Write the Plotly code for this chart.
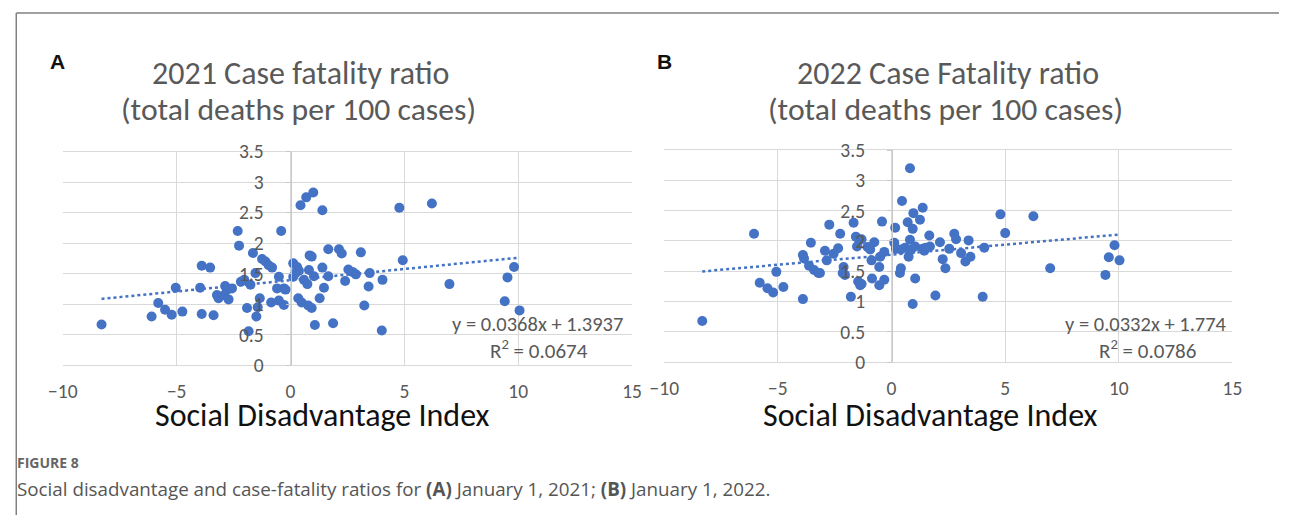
import plotly.graph_objects as go

W, H = 1289, 527

# ---------------- data ----------------
sdi_2021 = [-8.3, -6.1, -5.81, -5.51, -5.22, -5.04, -4.75, -3.97, -3.9, -3.53,
            -3.9, -3.38, -3.23, -3.16, -2.87, -2.79, -2.57, -2.91, -2.72, -2.32,
            -2.26, -2.18, -2.03, -1.91, -1.76, -1.65, -1.54, -1.84, -1.5, -1.44,
            -1.35, -1.25, -1.10, -0.96, -0.81, -0.51, -0.41, -0.59, -0.29, -0.22,
            -0.85, -0.51, -0.29, 0.12, 0.12, 0.44, 0.69, 1.0, 1.40, 0.29,
            0.37, 0.22, 0.59, 0.74, 0.84, 0.93, 0.81, 1.03, 1.40, 1.66,
            1.47, 1.28, 0.34, 0.49, 0.78, 0.93, 1.07, 1.87, 1.66, 2.13,
            2.25, 3.09, 2.40, 2.54, 2.72, 2.87, 3.48, 3.43, 4.04, 3.24,
            4.01, 4.78, 4.93, 6.21, 6.98, 9.41, 9.53, 9.82, 10.06]
cfr_2021 = [0.67, 0.80, 1.02, 0.91, 0.83, 1.27, 0.88, 1.27, 1.63, 1.60,
            0.84, 0.82, 1.15, 1.10, 1.30, 1.24, 1.26, 1.15, 1.08, 2.20,
            1.96, 1.37, 1.40, 0.94, 1.32, 1.84, 1.51, 0.56, 0.80, 0.95,
            1.10, 1.74, 1.70, 1.64, 1.60, 1.45, 2.20, 1.26, 1.26, 1.24,
            1.03, 1.06, 0.99, 1.67, 1.45, 2.62, 2.75, 2.83, 2.54, 1.61,
            1.55, 1.51, 1.40, 1.33, 1.80, 1.78, 1.56, 1.46, 1.60, 1.46,
            1.27, 1.10, 1.10, 1.03, 0.98, 0.94, 0.66, 0.69, 1.90, 1.90,
            1.83, 1.85, 1.38, 1.57, 1.53, 1.49, 1.51, 1.29, 1.40, 0.98,
            0.57, 2.58, 1.72, 2.65, 1.33, 1.05, 1.44, 1.61, 0.90]

sdi_2022 = [-8.33, -6.05, -5.80, -5.46, -5.21, -5.07, -4.76, -3.90, -3.90, -3.85,
            -3.55, -3.63, -3.41, -3.22, -3.15, -2.93, -2.85, -2.74, -2.55, -2.35,
            -2.26, -2.11, -2.15, -2.05, -1.79, -1.67, -1.57, -1.42, -1.32, -1.52,
            -1.47, -1.38, -1.32, -1.06, -0.94, -0.76, -0.88, -0.86, -0.54, -0.42,
            -0.50, -0.32, -0.54, -0.32, 0.81, 0.46, 0.16, 1.37, 0.96, 1.25,
            0.71, 0.93, 0.12, 0.19, 0.41, 0.60, 0.81, 0.85, 0.75, 1.04,
            1.37, 1.44, 1.51, 1.69, 1.66, 2.13, 2.54, 2.25, 2.37, 2.76,
            2.84, 3.06, 3.39, 3.25, 3.47, 4.08, 0.41, 0.37, 1.04, 0.93,
            1.93, 4.01, 4.79, 5.0, 6.24, 6.98, 9.41, 9.56, 9.81, 10.03]
cfr_2022 = [0.68, 2.12, 1.31, 1.22, 1.15, 1.49, 1.24, 1.04, 1.77, 1.71,
            1.97, 1.59, 1.52, 1.47, 1.47, 1.84, 1.68, 2.27, 1.79, 1.88,
            2.12, 1.57, 1.47, 1.44, 1.08, 2.30, 2.07, 2.01, 2.03, 1.91,
            1.33, 1.27, 1.29, 1.90, 1.86, 1.98, 1.68, 1.38, 1.57, 2.32,
            1.74, 1.82, 1.27, 1.36, 3.20, 2.66, 2.22, 2.55, 2.46, 2.35,
            2.31, 2.20, 1.97, 1.87, 1.86, 1.89, 2.02, 1.85, 1.74, 1.91,
            1.87, 1.84, 1.89, 1.91, 2.09, 1.98, 1.87, 1.70, 1.55, 2.12,
            2.03, 1.80, 2.01, 1.66, 1.74, 1.89, 1.55, 1.47, 1.38, 0.96,
            1.10, 1.08, 2.44, 2.13, 2.41, 1.55, 1.44, 1.73, 1.93, 1.68]

trend_slope = [0.0368, 0.0332]
trend_intercept = [1.3937, 1.774]
r_squared = ["0.0674", "0.0786"]
eq_text = ["y = 0.0368x + 1.3937", "y = 0.0332x + 1.774"]
titles_l1 = ["2021 Case fatality ratio", "2022 Case Fatality ratio"]
titles_l2 = ["(total deaths per 100 cases)", "(total deaths per 100 cases)"]
panel_labels = ["A", "B"]
x_title = "Social Disadvantage Index"
x_ticks = [-10, -5, 0, 5, 10, 15]
y_ticks = [0, 0.5, 1, 1.5, 2, 2.5, 3, 3.5]

# ---------------- layout helpers ----------------
# the page is photographed slightly shrunk and padded; map target pixel
# positions into figure pixels so that the photo lands where intended
SX, OX = 0.982, 14.1
SY, OY = 0.961, 10.2

def fx(x):
    return max(0.0, min(1.0, (x - OX) / SX / W))

def fy(y):
    return max(0.0, min(1.0, 1 - (y - OY) / SY / H))

BLUE = "#4472C4"
GRID = "#d9d9d9"
TXT = "#595959"
FONT = "Carlito, Lato, sans-serif"

fig = go.Figure()

panels = [
    dict(x=sdi_2021, y=cfr_2021, xa="x", ya="y",
         xdom=[62, 632], ydom=[366, 150.7], zero_px=290,
         t_cx=300, a_x=57, xt_cx=322, eq_r=625, r2_cx=539),
    dict(x=sdi_2022, y=cfr_2022, xa="x2", ya="y2",
         xdom=[664.3, 1233.3], ydom=[362.7, 149.3], zero_px=892.3,
         t_cx=948, a_x=665, xt_cx=931, eq_r=1230, r2_cx=1148),
]

for i, p in enumerate(panels):
    fig.add_trace(go.Scatter(x=p["x"], y=p["y"], mode="markers",
                             marker=dict(color=BLUE, size=10),
                             xaxis=p["xa"], yaxis=p["ya"], showlegend=False,
                             hoverinfo="skip"))
    x0, x1 = min(p["x"]), max(p["x"])
    fig.add_trace(go.Scatter(x=[x0, x1],
                             y=[trend_slope[i] * x0 + trend_intercept[i],
                                trend_slope[i] * x1 + trend_intercept[i]],
                             mode="lines",
                             line=dict(color=BLUE, width=2.5, dash="dot"),
                             xaxis=p["xa"], yaxis=p["ya"], showlegend=False,
                             hoverinfo="skip"))

    sfx = "" if i == 0 else "2"
    fig.update_layout(**{
        "xaxis" + sfx: dict(domain=[fx(p["xdom"][0]), fx(p["xdom"][1])],
                            range=[-10, 15], tickvals=x_ticks,
                            showgrid=True, gridcolor=GRID, gridwidth=1,
                            zeroline=False, showline=True, linecolor=GRID,
                            mirror=True, ticks="", ticklabelstandoff=8,
                            tickfont=dict(family=FONT, size=19.5, color=TXT),
                            anchor="y" + sfx, fixedrange=True),
        "yaxis" + sfx: dict(domain=[fy(p["ydom"][0]), fy(p["ydom"][1])],
                            range=[0, 3.5], tickvals=y_ticks,
                            showgrid=True, gridcolor=GRID, gridwidth=1,
                            zeroline=False, showline=True, linecolor="#c8c8c8",
                            ticks="outside", ticklen=5, tickcolor="#c8c8c8",
                            ticklabelstandoff=18,
                            anchor="free", position=fx(p["zero_px"]),
                            tickfont=dict(family=FONT, size=19.5, color=TXT),
                            fixedrange=True),
    })

    # titles
    fig.add_annotation(x=fx(p["t_cx"]), y=fy(72), xref="paper", yref="paper",
                       text=titles_l1[i], showarrow=False, xanchor="center", yanchor="middle",
                       font=dict(family=FONT, size=32, color=TXT))
    fig.add_annotation(x=fx(p["t_cx"] - 2), y=fy(108), xref="paper", yref="paper",
                       text=titles_l2[i], showarrow=False, xanchor="center", yanchor="middle",
                       font=dict(family=FONT, size=31.7, color=TXT))
    # panel letter
    fig.add_annotation(x=fx(p["a_x"]), y=fy(60), xref="paper", yref="paper",
                       text="<b>" + panel_labels[i] + "</b>", showarrow=False,
                       xanchor="center", yanchor="middle",
                       font=dict(family="Liberation Sans, Arial, sans-serif", size=21, color="#111"))
    # x title
    fig.add_annotation(x=fx(p["xt_cx"]), y=fy(416), xref="paper", yref="paper",
                       text=x_title, showarrow=False, xanchor="center", yanchor="middle",
                       font=dict(family=FONT, size=32, color="#111"))
    # equation
    fig.add_annotation(x=fx(p["eq_r"]), y=fy(324), xref="paper", yref="paper",
                       text=eq_text[i], showarrow=False, xanchor="right", yanchor="middle",
                       font=dict(family=FONT, size=20.5, color=TXT))
    fig.add_annotation(x=fx(p["r2_cx"]), y=fy(350), xref="paper", yref="paper",
                       text="R<sup>2</sup> = " + r_squared[i], showarrow=False,
                       xanchor="center", yanchor="middle",
                       font=dict(family=FONT, size=21, color=TXT))

# caption
fig.add_annotation(x=fx(13), y=fy(464), xref="paper", yref="paper",
                   text="<b>FIGURE 8</b>", showarrow=False, xanchor="left", yanchor="middle",
                   font=dict(family="Open Sans, sans-serif", size=14, color="#666666"))
fig.add_annotation(x=fx(13), y=fy(490), xref="paper", yref="paper",
                   text="Social disadvantage and case-fatality ratios for <b>(A)</b> January 1, 2021; "
                        "<b>(B)</b> January 1, 2022.",
                   showarrow=False, xanchor="left", yanchor="middle",
                   font=dict(family="Open Sans, sans-serif", size=18.8, color="#555555"))

# frame
fig.add_shape(type="line", xref="paper", yref="paper", x0=fx(7) + 0.001, x1=fx(7) + 0.001,
              y0=0, y1=fy(7) - 0.002, line=dict(color="#808080", width=1.5))
fig.add_shape(type="line", xref="paper", yref="paper", x0=fx(7) + 0.001, x1=1,
              y0=fy(7) - 0.002, y1=fy(7) - 0.002, line=dict(color="#808080", width=1.5))

fig.update_layout(width=W, height=H, margin=dict(l=0, r=0, t=0, b=0),
                  paper_bgcolor="white", plot_bgcolor="white", showlegend=False)

fig.write_html("out.html", config={"displayModeBar": False},
               post_script="document.body.style.margin='0';document.body.style.overflow='hidden';")
